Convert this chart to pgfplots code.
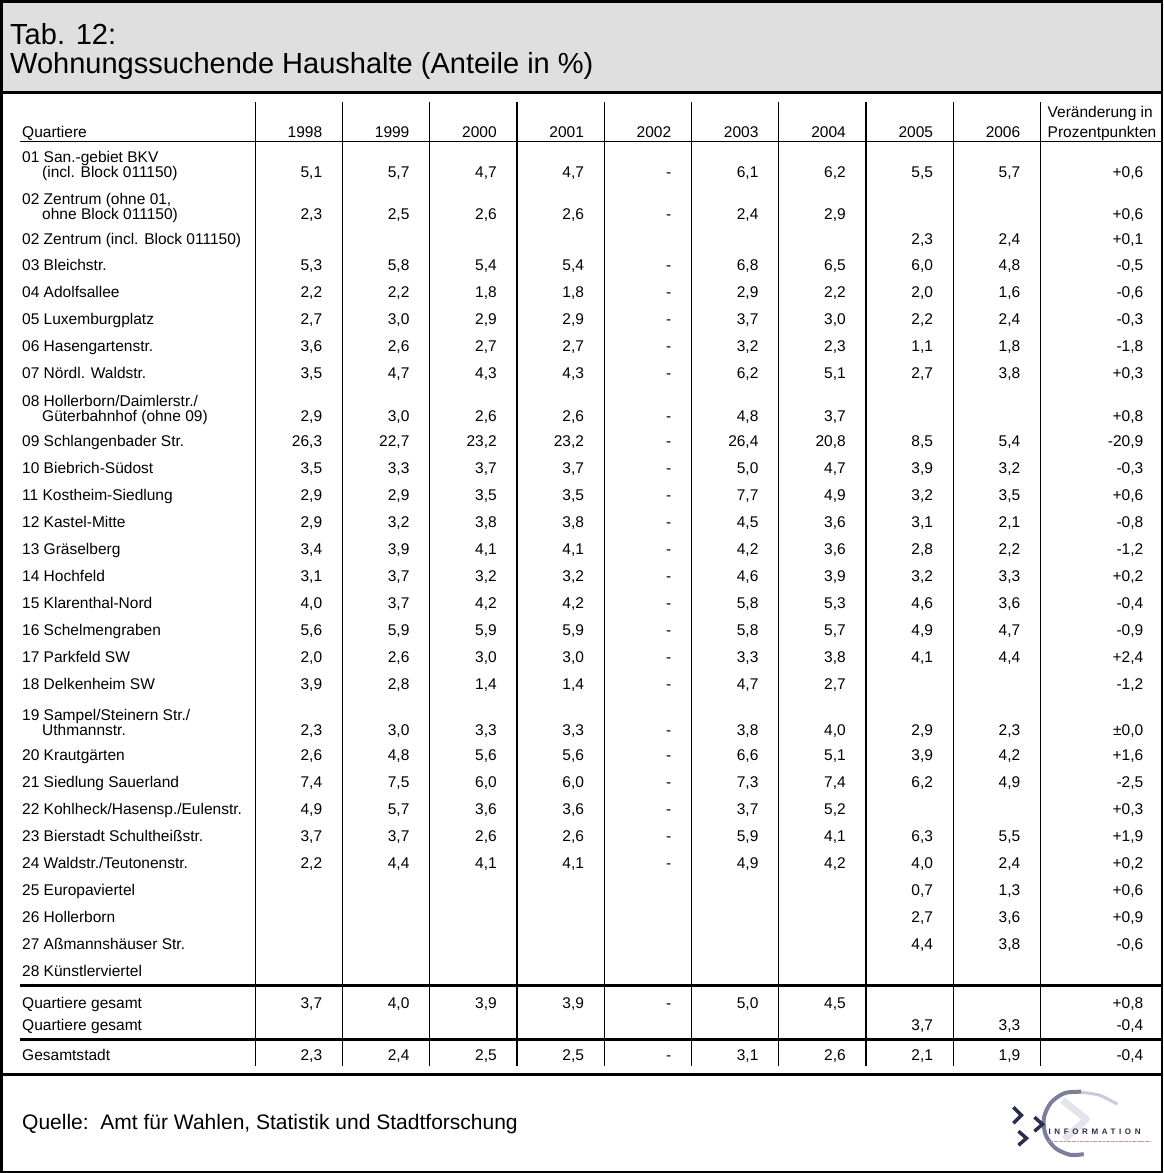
\documentclass[border=0pt]{standalone}
\usepackage{fontspec}
\setmainfont{Liberation Sans}
\usepackage{pgfplots}
\usepackage{pgfplotstable}
\pgfplotsset{compat=1.18}

\definecolor{band}{HTML}{DFDFDF}
\definecolor{navy}{HTML}{2A2D4E}
\definecolor{logogray}{HTML}{7B7F9C}
\definecolor{logolight}{HTML}{C9CBD8}
\newcommand\tabfont{\fontsize{15.5}{15.5}\selectfont}

\pgfplotsset{
  txt/.style={draw=none, mark=none, point meta=explicit symbolic,
    nodes near coords={\pgfplotspointmeta},
    nodes near coords align={anchor=#1},
    every node near coord/.append style={inner sep=0pt, font=\tabfont, text=black}},
}

% y = baseline, lx = left edge of the name
\pgfplotstableread[col sep=semicolon]{
y;lx;lab;a;b;c;d;e;f;g;h;i;j
163;22;01 San.-gebiet BKV;;;;;;;;;;
178;42;(incl. Block 011150);5,1;5,7;4,7;4,7;-;6,1;6,2;5,5;5,7;+0,6
205;22;02 Zentrum (ohne 01,;;;;;;;;;;
220;42;ohne Block 011150);2,3;2,5;2,6;2,6;-;2,4;2,9;;;+0,6
244.5;22;02 Zentrum (incl. Block 011150);;;;;;;;2,3;2,4;+0,1
271;22;03 Bleichstr.;5,3;5,8;5,4;5,4;-;6,8;6,5;6,0;4,8;-0,5
298;22;04 Adolfsallee;2,2;2,2;1,8;1,8;-;2,9;2,2;2,0;1,6;-0,6
325;22;05 Luxemburgplatz;2,7;3,0;2,9;2,9;-;3,7;3,0;2,2;2,4;-0,3
352;22;06 Hasengartenstr.;3,6;2,6;2,7;2,7;-;3,2;2,3;1,1;1,8;-1,8
378.5;22;07 Nördl. Waldstr.;3,5;4,7;4,3;4,3;-;6,2;5,1;2,7;3,8;+0,3
407;22;08 Hollerborn/Daimlerstr./;;;;;;;;;;
422;42;Güterbahnhof (ohne 09);2,9;3,0;2,6;2,6;-;4,8;3,7;;;+0,8
446.5;22;09 Schlangenbader Str.;26,3;22,7;23,2;23,2;-;26,4;20,8;8,5;5,4;-20,9
473.5;22;10 Biebrich-Südost;3,5;3,3;3,7;3,7;-;5,0;4,7;3,9;3,2;-0,3
500.5;22;11 Kostheim-Siedlung;2,9;2,9;3,5;3,5;-;7,7;4,9;3,2;3,5;+0,6
527.5;22;12 Kastel-Mitte;2,9;3,2;3,8;3,8;-;4,5;3,6;3,1;2,1;-0,8
554.5;22;13 Gräselberg;3,4;3,9;4,1;4,1;-;4,2;3,6;2,8;2,2;-1,2
581.5;22;14 Hochfeld;3,1;3,7;3,2;3,2;-;4,6;3,9;3,2;3,3;+0,2
608.5;22;15 Klarenthal-Nord;4,0;3,7;4,2;4,2;-;5,8;5,3;4,6;3,6;-0,4
635.5;22;16 Schelmengraben;5,6;5,9;5,9;5,9;-;5,8;5,7;4,9;4,7;-0,9
662.5;22;17 Parkfeld SW;2,0;2,6;3,0;3,0;-;3,3;3,8;4,1;4,4;+2,4
689.5;22;18 Delkenheim SW;3,9;2,8;1,4;1,4;-;4,7;2,7;;;-1,2
720;22;19 Sampel/Steinern Str./;;;;;;;;;;
735;42;Uthmannstr.;2,3;3,0;3,3;3,3;-;3,8;4,0;2,9;2,3;±0,0
760.5;22;20 Krautgärten;2,6;4,8;5,6;5,6;-;6,6;5,1;3,9;4,2;+1,6
787.5;22;21 Siedlung Sauerland;7,4;7,5;6,0;6,0;-;7,3;7,4;6,2;4,9;-2,5
814.5;22;22 Kohlheck/Hasensp./Eulenstr.;4,9;5,7;3,6;3,6;-;3,7;5,2;;;+0,3
841.5;22;23 Bierstadt Schultheißstr.;3,7;3,7;2,6;2,6;-;5,9;4,1;6,3;5,5;+1,9
868.5;22;24 Waldstr./Teutonenstr.;2,2;4,4;4,1;4,1;-;4,9;4,2;4,0;2,4;+0,2
895.5;22;25 Europaviertel;;;;;;;;0,7;1,3;+0,6
922.5;22;26 Hollerborn;;;;;;;;2,7;3,6;+0,9
949.5;22;27 Aßmannshäuser Str.;;;;;;;;4,4;3,8;-0,6
976.5;22;28 Künstlerviertel;;;;;;;;;;
1008;22;Quartiere gesamt;3,7;4,0;3,9;3,9;-;5,0;4,5;;;+0,8
1030;22;Quartiere gesamt;;;;;;;;3,7;3,3;-0,4
1060;22;Gesamtstadt;2,3;2,4;2,5;2,5;-;3,1;2,6;2,1;1,9;-0,4
}\rows

\pgfplotstableread[col sep=semicolon]{
x;y;t
322.2;138;1998
409.4;138;1999
496.7;138;2000
583.9;138;2001
671.1;138;2002
758.3;138;2003
845.6;138;2004
932.8;138;2005
1020;138;2006
}\years

\begin{document}
\begin{tikzpicture}
\begin{axis}[
  scale only axis, width=1163pt, height=1173pt,
  xmin=0, xmax=1163, ymin=0, ymax=1173, y dir=reverse,
  hide axis, clip=false,
  unbounded coords=jump,
]
% title band
\addplot[fill=band, draw=none] coordinates {(1.5,1.5)(1161.5,1.5)(1161.5,93)(1.5,93)};
\addplot[black, line width=3pt] coordinates {(1.5,93)(1161.5,93)};
% frame
\addplot[black, line width=2.5pt, line cap=rect] coordinates {(1.5,1.5)(1161.5,1.5)(1161.5,1171.5)(1.5,1171.5)(1.5,1.5)};
% rules
\addplot[black, line width=1.3pt] coordinates {(20,142)(1161.5,142)};
\addplot[black, line width=3pt] coordinates {(20,985)(1161.5,985)};
\addplot[black, line width=3pt] coordinates {(20,1039)(1161.5,1039)};
\addplot[black, line width=3pt] coordinates {(1.5,1074)(1161.5,1074)};
% column separators
\addplot[black, line width=1.2pt] coordinates {
  (255,102)(255,1066) (nan,nan)
  (342.2,102)(342.2,1066) (nan,nan)
  (429.4,102)(429.4,1066) (nan,nan)
  (516.7,102)(516.7,1066) (nan,nan)
  (603.9,102)(603.9,1066) (nan,nan)
  (691.1,102)(691.1,1066) (nan,nan)
  (778.3,102)(778.3,1066) (nan,nan)
  (865.6,102)(865.6,1066) (nan,nan)
  (952.8,102)(952.8,1066) (nan,nan)
  (1040,102)(1040,1066)};

% title
\addplot[txt=base west, every node near coord/.append style={font=\fontsize{29}{29}\selectfont}]
  coordinates {(10,45)[Tab. 12:] (10,74)[Wohnungssuchende Haushalte (Anteile in \%)]};

% header
\addplot[txt=base west] coordinates {(22,138)[Quartiere] (1047,118)[Veränderung in] (1047,138)[Prozentpunkten]};
\addplot[txt=base east] table[x=x, y=y, meta=t] {\years};

% body
\addplot[txt=base west] table[x=lx, y=y, meta=lab] {\rows};
\addplot[txt=base east] table[x expr=322.2, y=y, meta=a] {\rows};
\addplot[txt=base east] table[x expr=409.4, y=y, meta=b] {\rows};
\addplot[txt=base east] table[x expr=496.7, y=y, meta=c] {\rows};
\addplot[txt=base east] table[x expr=583.9, y=y, meta=d] {\rows};
\addplot[txt=base east] table[x expr=671.1, y=y, meta=e] {\rows};
\addplot[txt=base east] table[x expr=758.3, y=y, meta=f] {\rows};
\addplot[txt=base east] table[x expr=845.6, y=y, meta=g] {\rows};
\addplot[txt=base east] table[x expr=932.8, y=y, meta=h] {\rows};
\addplot[txt=base east] table[x expr=1020, y=y, meta=i] {\rows};
\addplot[txt=base east] table[x expr=1143, y=y, meta=j] {\rows};

% source
\addplot[txt=base west, every node near coord/.append style={font=\fontsize{21}{21}\selectfont}]
  coordinates {(22,1129)[Quelle:\ \ Amt für Wahlen, Statistik und Stadtforschung]};

% logo
\addplot[logolight!50, line width=7pt, line join=round] coordinates {(1062,1100)(1086,1119)(1064,1139)};
\addplot[logolight, line width=3pt, smooth] coordinates {(1080,1092)(1099,1095)(1117,1104)};
\addplot[logogray, line width=4pt, smooth] coordinates {(1080.6,1091.5)(1064.1,1092.9)(1050.5,1102.4)(1043.5,1117.4)(1044.9,1133.9)(1054.4,1147.5)(1069.4,1154.5)(1083.3,1153.9)};
\addplot[navy, line width=3.5pt] coordinates {
  (1013,1107)(1021,1115)(1013,1123) (nan,nan)
  (1034,1117)(1042,1124)(1034,1131) (nan,nan)
  (1018,1131)(1026,1138)(1018,1145)};
\addplot[txt=base west, every node near coord/.append style={font=\fontsize{8}{8}\selectfont\bfseries\addfontfeatures{LetterSpace=45}, text=navy}]
  coordinates {(1048,1134)[INFORMATION]};
\addplot[red!40!gray!60, line width=1.2pt, dash pattern=on 2pt off 0.6pt] coordinates {(1048,1141)(1150,1141)};
\end{axis}
\end{tikzpicture}
\end{document}
